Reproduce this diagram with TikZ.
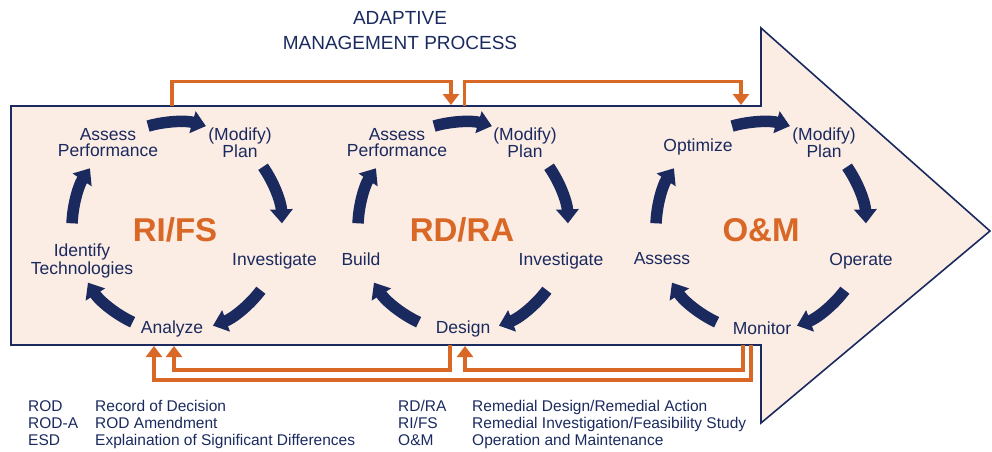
\documentclass[tikz,border=0pt]{standalone}
\usepackage{fontspec}
\setmainfont{Liberation Sans}
\usetikzlibrary{arrows.meta}
\definecolor{navy}{RGB}{27,42,94}
\definecolor{rust}{RGB}{217,103,38}
\definecolor{peach}{RGB}{251,236,228}

\begin{document}
\begin{tikzpicture}[x=1pt,y=1pt,
		lbl/.style={align=center,text=navy,font=\fontsize{17.5}{16}\selectfont},
		phase/.style={text=rust,font=\fontsize{33}{33}\selectfont\bfseries},
		cyc/.style={draw=navy,line width=11.5pt,-{Triangle[length=14pt,width=22pt]}},
		fb/.style={draw=rust,line width=3.6pt,-{Triangle[length=11pt,width=16pt]}},
		key/.style={anchor=base west,inner sep=0pt,text=navy,font=\fontsize{15.5}{17}\selectfont}]
			\useasboundingbox (0,0) rectangle (992,451);
			% big arrow
			\draw [fill=peach, draw=navy, line width=1.6pt] (11,345) -- (761,345) -- (761,423) -- (990,220) -- (761,28) -- (761,106) -- (11,106) -- cycle;
			\node (title) [align=center, text=navy, font=\fontsize{19}{25}\selectfont] at (400,420) {ADAPTIVE\\MANAGEMENT PROCESS};
			% phases
			\node (rifs) [phase] at (175,221) {RI/FS};
			\node (rdra) [phase] at (462,221) {RD/RA};
			\node (om) [phase] at (761,221) {O\&M};
			\node (ap1) [lbl] at (108,308.5) {Assess\\Performance};
			\node (pl1) [lbl] at (240,308) {(Modify)\\Plan};
			\node (inv1) [lbl] at (274.5,190) {Investigate};
			\node (ana1) [lbl] at (172,122) {Analyze};
			\node (idt1) [lbl] at (82,190) {Identify\\Technologies};
			\node (ap2) [lbl] at (397,308.5) {Assess\\Performance};
			\node (pl2) [lbl] at (525,308) {(Modify)\\Plan};
			\node (inv2) [lbl] at (561,190) {Investigate};
			\node (des2) [lbl] at (463,122) {Design};
			\node (bld2) [lbl] at (361,192) {Build};
			\node (opt3) [lbl] at (698,304) {Optimize};
			\node (pl3) [lbl] at (824,308) {(Modify)\\Plan};
			\node (ope3) [lbl] at (861,190) {Operate};
			\node (mon3) [lbl] at (762,123) {Monitor};
			\node (ass3) [lbl] at (662,192) {Assess};
			% cycles
			\coordinate (c1) at (177,224);
			\coordinate (c2) at (463,224);
			\coordinate (c3) at (761,224);
			\foreach \c in {c1,c2,c3}
				\foreach \a/\b in {106/74,35/2,-37/-70,-115/-148,178/146}
					\draw [cyc] ([shift={(\a:105)}]\c) arc [start angle=\a, end angle=\b, radius=105];
			% feedback loops
			\coordinate (t1a) at (172,345); \coordinate (t1b) at (451,346);
			\coordinate (t2a) at (464.5,345); \coordinate (t2b) at (741,346);
			\coordinate (b1a) at (450,106); \coordinate (b1b) at (174,105);
			\coordinate (b2a) at (743,106); \coordinate (b2b) at (465,105);
			\coordinate (b3a) at (751,106); \coordinate (b3b) at (154,105);
			\draw [fb] (t1a) -- ++(0,24.5) -| (t1b);
			\draw [fb] (t2a) -- ++(0,24.5) -| (t2b);
			\draw [fb] (b1a) -- ++(0,-25) -| (b1b);
			\draw [fb] (b2a) -- ++(0,-25) -| (b2b);
			\draw [fb] (b3a) -- ++(0,-35) -| (b3b);
			% legend
			\node (rod) [key] at (28,39.5) {ROD};
			\node (roda) [key] at (28,22.5) {ROD-A};
			\node (esd) [key] at (28,5.5) {ESD};
			\node (rodt) [key] at (95,39.5) {Record of Decision};
			\node (rodat) [key] at (95,22.5) {ROD Amendment};
			\node (esdt) [key] at (95,5.5) {Explaination of Significant Differences};
			\node (rdk) [key] at (398,39.5) {RD/RA};
			\node (rik) [key] at (398,22.5) {RI/FS};
			\node (omk) [key] at (398,5.5) {O\&M};
			\node (rdt) [key] at (472,39.5) {Remedial Design/Remedial Action};
			\node (rit) [key] at (472,22.5) {Remedial Investigation/Feasibility Study};
			\node (omt) [key] at (472,5.5) {Operation and Maintenance};
		\end{tikzpicture}
\end{document}
